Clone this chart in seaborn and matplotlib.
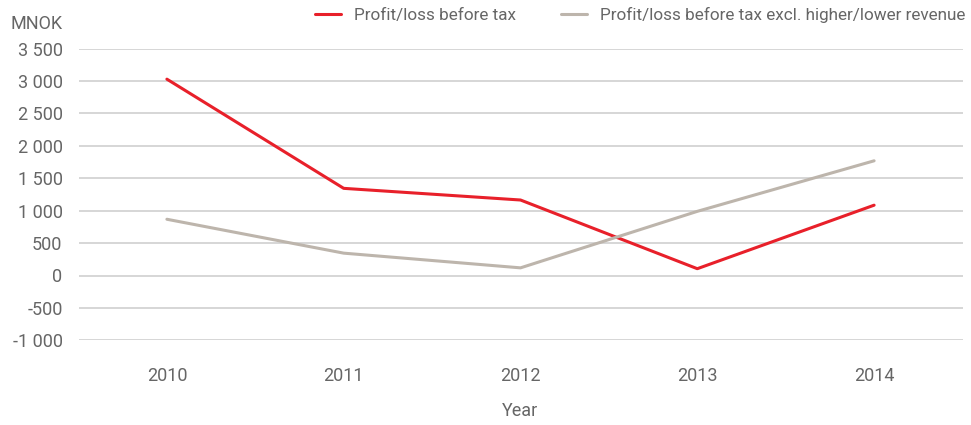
import pandas as pd
import numpy as np
import matplotlib
matplotlib.use("Agg")
import matplotlib.pyplot as plt
import seaborn as sns
from matplotlib.ticker import FuncFormatter

years = ["2010", "2011", "2012", "2013", "2014"]
profit_before_tax = [3030, 1345, 1165, 105, 1085]
profit_excl_revenue = [868, 345, 118, 990, 1770]
series_names = ["Profit/loss before tax", "Profit/loss before tax excl. higher/lower revenue"]
yticks = [-1000, -500, 0, 500, 1000, 1500, 2000, 2500, 3000, 3500]

df = pd.DataFrame({
    "Year": years * 2,
    "MNOK": profit_before_tax + profit_excl_revenue,
    "series": [series_names[0]] * 5 + [series_names[1]] * 5,
})

sns.set_style("white")
plt.rcParams["font.family"] = ["Roboto", "DejaVu Sans"]
txt = "#666666"
fs = 13

fig = plt.figure(figsize=(9.71, 4.25), dpi=100)
ax = fig.add_axes([78.5 / 971, 1 - 340.3 / 425, 884 / 971, 291.6 / 425])

ax.set_ylim(-1000, 3500)
ax.set_yticks(yticks)
for t in yticks:
    ax.axhline(t, color="#d3d3d3", lw=1.3, zorder=0)

sns.lineplot(data=df, x="Year", y="MNOK", hue="series",
             palette=["#e8202a", "#bdb5ac"], linewidth=2.2, ax=ax,
             legend=True, sort=False)
ax.set_xlim(-0.5, 4.5)

for s in ax.spines.values():
    s.set_visible(False)
ax.tick_params(axis="both", length=0, labelsize=fs, colors=txt)
ax.tick_params(axis="y", pad=11.5)
ax.tick_params(axis="x", pad=19)
ax.yaxis.set_major_formatter(FuncFormatter(lambda v, p: f"{int(v):,}".replace(",", " ")))

ax.set_ylabel("")
ax.set_xlabel("Year", fontsize=fs, color=txt, labelpad=12.5)
fig.text(10 / 971, 1 - 24 / 425, "MNOK", fontsize=fs, color=txt, va="center", ha="left")

ax.get_legend().remove()
handles, labels = ax.get_legend_handles_labels()
fig.legend(handles, labels, loc="center right", bbox_to_anchor=(972 / 971, 1 - 15 / 425),
           ncol=2, frameon=False, fontsize=12.3, labelcolor=txt, borderaxespad=0,
           handlelength=1.55, handletextpad=0.72, columnspacing=2.65)

plt.savefig("out.png", dpi=100)
